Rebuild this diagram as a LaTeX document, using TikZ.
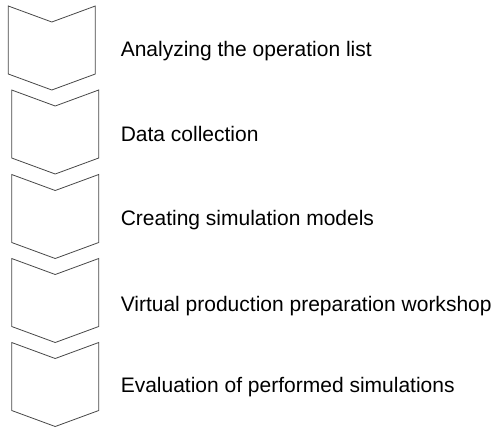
\documentclass[tikz,border=0pt]{standalone}
\usepackage{fontspec}
\setmainfont{Liberation Sans}
\tikzset{
  chev/.style={draw=black!72, line width=0.6pt, line join=miter},
  lbl/.style={anchor=base west, inner sep=0pt, font=\fontsize{15.75pt}{18pt}\selectfont, text=black}
}
\newcommand\mychev[3]{% left x, top y, name
  \draw[chev] (#1,#2) -- ++(43.5,16) -- ++(43.5,-16) -- ++(0,68) -- ++(-43.5,16) -- ++(-43.5,-16) -- cycle;
  \coordinate (#3) at (#1+43.5,#2+42);
}
\begin{document}
\begin{tikzpicture}[x=0.75pt,y=-0.75pt]
\useasboundingbox (0,0) rectangle (495,426);
\mychev{8.3}{6}{c1}
\mychev{11.7}{90}{c2}
\mychev{11.7}{174.5}{c3}
\mychev{11.7}{258.5}{c4}
\mychev{11.7}{342.5}{c5}
\node[lbl] (t1) at (120.5,56) {Analyzing the operation list};
\node[lbl] (t2) at (120.5,141) {Data collection};
\node[lbl] (t3) at (120.5,225) {Creating simulation models};
\node[lbl] (t4) at (120.5,311) {Virtual production preparation workshop};
\node[lbl] (t5) at (120.5,392) {Evaluation of performed simulations};
\end{tikzpicture}
\end{document}
